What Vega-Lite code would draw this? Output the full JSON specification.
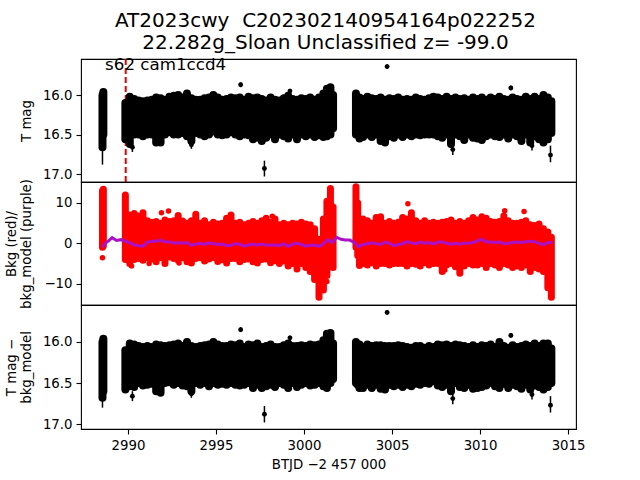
{"$schema":"https://vega.github.io/schema/vega-lite/v6.json","autosize":"pad","bounds":"flush","padding":{"left":3,"top":11,"right":5,"bottom":5},"background":"white","title":{"text":["AT2023cwy\u00a0\u00a0C202302140954164p022252","\u00a0\u00a022.282g_Sloan Unclassified z= -99.0"],"font":"DejaVu Sans","fontSize":20,"fontWeight":"normal","color":"black","anchor":"middle","frame":"group","offset":3,"dx":-3,"lineHeight":22},"config":{"font":"DejaVu Sans","view":{"stroke":"black","strokeWidth":1.1},"axis":{"grid":false,"domain":false,"tickColor":"black","labelColor":"black","titleColor":"black","tickSize":5,"labelFont":"DejaVu Sans","titleFont":"DejaVu Sans","labelFontSize":13.3,"titleFontSize":13.3,"titleFontWeight":"normal","labelPadding":4,"tickWidth":1.1}},"spacing":0,"datasets":{"band":[{"t":2988.55,"a":16.0,"b":16.66,"c":16.0,"d":16.68,"r":13,"s":-1},{"t":2988.6,"a":15.96,"b":16.5,"c":15.96,"d":16.6,"r":13.4,"s":-0.6},{"t":2989.85,"a":16.1,"b":16.56,"c":16.1,"d":16.58,"r":12,"s":-4},{"t":2990.1,"a":16.02,"b":16.62,"c":16.02,"d":16.54,"r":7,"s":-5},{"t":2990.35,"a":16.05,"b":16.5,"c":16.03,"d":16.55,"r":7.4,"s":-4},{"t":2990.6,"a":16.07,"b":16.5,"c":16.05,"d":16.5,"r":6.8,"s":-3.8},{"t":2990.85,"a":16.08,"b":16.52,"c":16.06,"d":16.53,"r":7.6,"s":-4.2},{"t":2991.1,"a":16.07,"b":16.5,"c":16.05,"d":16.52,"r":5.6,"s":-3.6},{"t":2991.35,"a":16.06,"b":16.5,"c":16.06,"d":16.51,"r":5.2,"s":-3.9},{"t":2991.6,"a":16.03,"b":16.6,"c":16.03,"d":16.6,"r":5.4,"s":-4.6},{"t":2991.85,"a":16.04,"b":16.6,"c":16.04,"d":16.62,"r":5,"s":-3.6},{"t":2992.1,"a":16.06,"b":16.5,"c":16.05,"d":16.5,"r":5.8,"s":-5},{"t":2992.35,"a":16.02,"b":16.47,"c":16.04,"d":16.49,"r":5.4,"s":-3.4},{"t":2992.6,"a":16.01,"b":16.5,"c":16.03,"d":16.52,"r":5.6,"s":-3.8},{"t":2992.85,"a":16.0,"b":16.5,"c":16.02,"d":16.5,"r":6.9,"s":-4.2},{"t":2993.1,"a":16.03,"b":16.48,"c":16.05,"d":16.53,"r":5.5,"s":-3.6},{"t":2993.35,"a":15.98,"b":16.52,"c":16.0,"d":16.54,"r":5,"s":-4.6},{"t":2993.6,"a":16.04,"b":16.58,"c":16.05,"d":16.6,"r":5.6,"s":-4.9},{"t":2993.85,"a":16.06,"b":16.48,"c":16.06,"d":16.5,"r":7.2,"s":-3.8},{"t":2994.1,"a":16.06,"b":16.5,"c":16.05,"d":16.52,"r":5,"s":-3.6},{"t":2994.35,"a":16.04,"b":16.52,"c":16.04,"d":16.5,"r":5.6,"s":-4.4},{"t":2994.6,"a":16.03,"b":16.5,"c":16.03,"d":16.54,"r":4.6,"s":-3.9},{"t":2994.85,"a":16.0,"b":16.46,"c":16.0,"d":16.5,"r":5.2,"s":-3.5},{"t":2995.1,"a":16.03,"b":16.5,"c":16.03,"d":16.52,"r":4.8,"s":-4.5},{"t":2995.35,"a":16.06,"b":16.51,"c":16.05,"d":16.51,"r":5,"s":-4.1},{"t":2995.6,"a":16.05,"b":16.5,"c":16.05,"d":16.52,"r":6.2,"s":-4.9},{"t":2995.85,"a":16.03,"b":16.47,"c":16.03,"d":16.5,"r":7,"s":-3.8},{"t":2996.1,"a":16.04,"b":16.5,"c":16.04,"d":16.52,"r":5,"s":-3.8},{"t":2996.35,"a":16.03,"b":16.52,"c":16.02,"d":16.53,"r":5.2,"s":-4.6},{"t":2996.6,"a":16.06,"b":16.5,"c":16.06,"d":16.52,"r":4.6,"s":-4},{"t":2996.85,"a":16.02,"b":16.51,"c":16.03,"d":16.5,"r":5,"s":-3.9},{"t":2997.1,"a":16.04,"b":16.56,"c":16.04,"d":16.56,"r":5.4,"s":-4.6},{"t":2997.35,"a":16.03,"b":16.54,"c":16.02,"d":16.52,"r":5,"s":-4.9},{"t":2997.6,"a":16.05,"b":16.58,"c":16.06,"d":16.56,"r":5.6,"s":-4},{"t":2997.85,"a":16.07,"b":16.54,"c":16.05,"d":16.54,"r":6.2,"s":-3.9},{"t":2998.1,"a":16.03,"b":16.5,"c":16.03,"d":16.52,"r":5.2,"s":-4.8},{"t":2998.35,"a":16.06,"b":16.56,"c":16.06,"d":16.55,"r":6,"s":-4.3},{"t":2998.6,"a":16.07,"b":16.5,"c":16.06,"d":16.5,"r":4.6,"s":-5},{"t":2998.85,"a":16.04,"b":16.52,"c":16.04,"d":16.52,"r":5,"s":-4.4},{"t":2999.1,"a":16.01,"b":16.55,"c":16.02,"d":16.56,"r":4.6,"s":-5.6},{"t":2999.35,"a":16.05,"b":16.5,"c":16.05,"d":16.5,"r":5,"s":-5},{"t":2999.6,"a":16.06,"b":16.56,"c":16.05,"d":16.55,"r":4.8,"s":-6.4},{"t":2999.85,"a":16.04,"b":16.5,"c":16.04,"d":16.52,"r":5.2,"s":-5},{"t":3000.1,"a":16.05,"b":16.52,"c":16.05,"d":16.5,"r":4.8,"s":-6},{"t":3000.35,"a":16.03,"b":16.5,"c":16.03,"d":16.53,"r":4.6,"s":-7},{"t":3000.6,"a":16.06,"b":16.53,"c":16.04,"d":16.52,"r":3.6,"s":-9},{"t":3000.85,"a":16.03,"b":16.51,"c":16.03,"d":16.5,"r":1,"s":-13.4},{"t":3001.1,"a":15.98,"b":16.53,"c":15.98,"d":16.54,"r":6,"s":-11.6},{"t":3001.3,"a":15.92,"b":16.52,"c":15.9,"d":16.56,"r":10.4,"s":-8},{"t":3001.5,"a":15.9,"b":16.5,"c":15.89,"d":16.5,"r":13.6,"s":-5},{"t":3001.65,"a":16.0,"b":16.42,"c":16.02,"d":16.45,"r":9,"s":-6},{"t":3002.95,"a":15.98,"b":16.5,"c":16.0,"d":16.5,"r":14,"s":-1},{"t":3003.05,"a":16.05,"b":16.5,"c":16.05,"d":16.52,"r":10,"s":-3},{"t":3003.15,"a":16.03,"b":16.55,"c":16.03,"d":16.56,"r":5.6,"s":-5.5},{"t":3003.35,"a":16.05,"b":16.53,"c":16.06,"d":16.56,"r":6,"s":-5},{"t":3003.6,"a":16.02,"b":16.5,"c":16.03,"d":16.52,"r":5.6,"s":-5.4},{"t":3003.85,"a":16.04,"b":16.53,"c":16.05,"d":16.56,"r":5,"s":-4.8},{"t":3004.1,"a":16.05,"b":16.5,"c":16.04,"d":16.52,"r":6.4,"s":-5.6},{"t":3004.35,"a":16.03,"b":16.58,"c":16.04,"d":16.57,"r":6.6,"s":-5},{"t":3004.6,"a":16.06,"b":16.6,"c":16.05,"d":16.58,"r":5,"s":-5},{"t":3004.85,"a":16.04,"b":16.52,"c":16.05,"d":16.52,"r":5.4,"s":-5.4},{"t":3005.1,"a":16.05,"b":16.54,"c":16.05,"d":16.54,"r":5,"s":-5},{"t":3005.35,"a":16.03,"b":16.5,"c":16.04,"d":16.52,"r":5.2,"s":-5},{"t":3005.6,"a":16.06,"b":16.53,"c":16.05,"d":16.55,"r":6.4,"s":-5},{"t":3005.85,"a":16.05,"b":16.5,"c":16.06,"d":16.52,"r":6,"s":-5.6},{"t":3006.1,"a":16.06,"b":16.52,"c":16.07,"d":16.54,"r":7.6,"s":-5},{"t":3006.35,"a":16.03,"b":16.5,"c":16.05,"d":16.51,"r":5.6,"s":-5.2},{"t":3006.6,"a":16.05,"b":16.51,"c":16.05,"d":16.52,"r":5,"s":-5.6},{"t":3006.85,"a":16.06,"b":16.5,"c":16.07,"d":16.5,"r":5.6,"s":-4.8},{"t":3007.1,"a":16.04,"b":16.5,"c":16.05,"d":16.51,"r":5,"s":-5.4},{"t":3007.35,"a":16.02,"b":16.5,"c":16.06,"d":16.48,"r":5.2,"s":-5},{"t":3007.6,"a":16.03,"b":16.52,"c":16.03,"d":16.53,"r":5,"s":-5},{"t":3007.85,"a":16.05,"b":16.54,"c":16.04,"d":16.55,"r":5.2,"s":-7},{"t":3008.1,"a":16.02,"b":16.5,"c":16.03,"d":16.52,"r":5.4,"s":-5.4},{"t":3008.35,"a":16.05,"b":16.62,"c":16.05,"d":16.6,"r":5.8,"s":-5},{"t":3008.6,"a":16.03,"b":16.5,"c":16.03,"d":16.5,"r":5,"s":-5.8},{"t":3008.85,"a":16.05,"b":16.52,"c":16.04,"d":16.55,"r":5.4,"s":-7.4},{"t":3009.1,"a":16.04,"b":16.57,"c":16.05,"d":16.56,"r":5,"s":-5.6},{"t":3009.35,"a":16.06,"b":16.5,"c":16.06,"d":16.52,"r":5.6,"s":-5},{"t":3009.6,"a":16.03,"b":16.54,"c":16.04,"d":16.57,"r":6.4,"s":-5.4},{"t":3009.85,"a":16.05,"b":16.55,"c":16.06,"d":16.56,"r":5.8,"s":-5.4},{"t":3010.1,"a":16.03,"b":16.57,"c":16.04,"d":16.55,"r":6.6,"s":-5},{"t":3010.35,"a":16.06,"b":16.52,"c":16.05,"d":16.53,"r":6.2,"s":-6},{"t":3010.6,"a":16.03,"b":16.5,"c":16.03,"d":16.5,"r":5.4,"s":-5},{"t":3010.85,"a":16.05,"b":16.52,"c":16.06,"d":16.54,"r":5.2,"s":-5.4},{"t":3011.1,"a":16.02,"b":16.53,"c":16.0,"d":16.56,"r":5.4,"s":-6},{"t":3011.35,"a":16.05,"b":16.5,"c":16.05,"d":16.51,"r":6.8,"s":-5},{"t":3011.6,"a":16.06,"b":16.55,"c":16.07,"d":16.56,"r":5.6,"s":-5.4},{"t":3011.85,"a":16.03,"b":16.5,"c":16.04,"d":16.52,"r":5,"s":-6},{"t":3012.1,"a":16.05,"b":16.52,"c":16.06,"d":16.54,"r":5,"s":-5.6},{"t":3012.35,"a":16.06,"b":16.58,"c":16.05,"d":16.57,"r":5.2,"s":-6},{"t":3012.6,"a":16.02,"b":16.5,"c":16.03,"d":16.52,"r":5.6,"s":-5.4},{"t":3012.85,"a":16.05,"b":16.6,"c":16.05,"d":16.58,"r":4.6,"s":-7},{"t":3013.1,"a":16.02,"b":16.52,"c":16.02,"d":16.53,"r":4.4,"s":-6},{"t":3013.35,"a":16.05,"b":16.56,"c":16.05,"d":16.55,"r":4.8,"s":-6.4},{"t":3013.6,"a":16.0,"b":16.6,"c":16.02,"d":16.58,"r":3.6,"s":-7},{"t":3013.85,"a":16.03,"b":16.56,"c":16.02,"d":16.55,"r":2.8,"s":-11},{"t":3014.05,"a":16.08,"b":16.48,"c":16.08,"d":16.5,"r":1.5,"s":-13.4}],"model":[{"t":2988.55,"m":-1},{"t":2988.7,"m":0},{"t":2988.9,"m":0.6},{"t":2989.1,"m":1.4},{"t":2989.35,"m":0.7},{"t":2989.6,"m":0.9},{"t":2989.85,"m":0.5},{"t":2990.1,"m":0.1},{"t":2990.35,"m":-0.4},{"t":2990.6,"m":-0.6},{"t":2990.85,"m":-0.7},{"t":2991.1,"m":0.3},{"t":2991.35,"m":0.5},{"t":2991.6,"m":0.5},{"t":2991.85,"m":0.8},{"t":2992.1,"m":0.3},{"t":2992.35,"m":0.4},{"t":2992.6,"m":0},{"t":2992.85,"m":0.2},{"t":2993.1,"m":0},{"t":2993.35,"m":0.2},{"t":2993.6,"m":-0.5},{"t":2993.85,"m":-0.2},{"t":2994.1,"m":0},{"t":2994.35,"m":-0.3},{"t":2994.6,"m":0.1},{"t":2994.85,"m":-0.1},{"t":2995.1,"m":-0.3},{"t":2995.35,"m":-0.2},{"t":2995.6,"m":-0.6},{"t":2995.85,"m":-0.5},{"t":2996.1,"m":-0.1},{"t":2996.35,"m":-0.2},{"t":2996.6,"m":-0.7},{"t":2996.85,"m":-0.4},{"t":2997.1,"m":-0.2},{"t":2997.35,"m":-0.5},{"t":2997.6,"m":-0.2},{"t":2997.85,"m":-0.5},{"t":2998.1,"m":-0.4},{"t":2998.35,"m":-0.4},{"t":2998.6,"m":-0.6},{"t":2998.85,"m":-0.1},{"t":2999.1,"m":-0.8},{"t":2999.35,"m":-0.2},{"t":2999.6,"m":0},{"t":2999.85,"m":-0.3},{"t":3000.1,"m":-0.7},{"t":3000.35,"m":-0.5},{"t":3000.6,"m":-0.4},{"t":3000.85,"m":-0.8},{"t":3001.1,"m":-0.1},{"t":3001.35,"m":0.9},{"t":3001.6,"m":0.2},{"t":3001.85,"m":1.5},{"t":3002.1,"m":1},{"t":3002.35,"m":0.8},{"t":3002.6,"m":0.8},{"t":3002.85,"m":0.2},{"t":3003.1,"m":-0.9},{"t":3003.35,"m":-0.3},{"t":3003.6,"m":-0.1},{"t":3003.85,"m":0.1},{"t":3004.1,"m":-0.1},{"t":3004.35,"m":-0.3},{"t":3004.6,"m":0.3},{"t":3004.85,"m":0},{"t":3005.1,"m":-0.6},{"t":3005.35,"m":-0.3},{"t":3005.6,"m":-0.1},{"t":3005.85,"m":0.4},{"t":3006.1,"m":0.1},{"t":3006.35,"m":-0.1},{"t":3006.6,"m":0.3},{"t":3006.85,"m":0},{"t":3007.1,"m":0.2},{"t":3007.35,"m":-0.2},{"t":3007.6,"m":0.3},{"t":3007.85,"m":0.3},{"t":3008.1,"m":0},{"t":3008.35,"m":-0.2},{"t":3008.6,"m":0},{"t":3008.85,"m":-0.2},{"t":3009.1,"m":0.1},{"t":3009.35,"m":0},{"t":3009.6,"m":0.2},{"t":3009.85,"m":0.6},{"t":3010.1,"m":1},{"t":3010.35,"m":0.3},{"t":3010.6,"m":0.3},{"t":3010.85,"m":0.2},{"t":3011.1,"m":0.3},{"t":3011.35,"m":-0.1},{"t":3011.6,"m":0},{"t":3011.85,"m":0.2},{"t":3012.1,"m":0.3},{"t":3012.35,"m":0.2},{"t":3012.6,"m":0.4},{"t":3012.85,"m":0.5},{"t":3013.1,"m":0.4},{"t":3013.35,"m":0},{"t":3013.6,"m":-0.4},{"t":3013.85,"m":0.2},{"t":3014.1,"m":0.2}],"outT":[{"t":2996.4,"m":15.87,"l":15.84,"h":15.9},{"t":2997.75,"m":16.93,"l":16.83,"h":17.03},{"t":3004.72,"m":15.64,"l":15.61,"h":15.67},{"t":3011.75,"m":15.91,"l":15.88,"h":15.94},{"t":3014.0,"m":16.76,"l":16.64,"h":16.85},{"t":3008.45,"m":16.69,"l":16.62,"h":16.76},{"t":2999.2,"m":15.95,"l":15.92,"h":15.98},{"t":2993.6,"m":16.63,"l":16.58,"h":16.68},{"t":2990.25,"m":16.66,"l":16.6,"h":16.72},{"t":2988.55,"m":16.63,"l":16.55,"h":16.88},{"t":3012.95,"m":16.64,"l":16.58,"h":16.7}],"outB":[{"t":2996.4,"m":15.85,"l":15.82,"h":15.88},{"t":2997.75,"m":16.88,"l":16.78,"h":16.98},{"t":3004.72,"m":15.64,"l":15.61,"h":15.67},{"t":3011.75,"m":15.92,"l":15.89,"h":15.95},{"t":3014.0,"m":16.77,"l":16.66,"h":16.86},{"t":3008.45,"m":16.69,"l":16.62,"h":16.76},{"t":2993.6,"m":16.63,"l":16.58,"h":16.68},{"t":2999.2,"m":15.95,"l":15.92,"h":15.98},{"t":2990.25,"m":16.66,"l":16.6,"h":16.72},{"t":2988.55,"m":16.63,"l":16.55,"h":16.8},{"t":3012.95,"m":16.64,"l":16.58,"h":16.7}],"outR":[{"t":2988.55,"r":-3.6},{"t":2990.2,"r":-5.6},{"t":2992.9,"r":-4.9},{"t":2991.2,"r":-5},{"t":3005.9,"r":9.8},{"t":3008.0,"r":-6.6},{"t":3008.85,"r":-7.2},{"t":3011.4,"r":8.1},{"t":3012.5,"r":7.9},{"t":2992.3,"r":8},{"t":2991.9,"r":7.6},{"t":2998.2,"r":6.7},{"t":3001.3,"r":-9.5}]},"vconcat":[{"width":495,"height":123,"layer":[{"data":{"values":[{"t":2989.87}]},"mark":{"type":"rule","color":"#ee0000","strokeWidth":2,"strokeDash":[6,3]},"encoding":{"x":{"field":"t","type":"quantitative","scale":{"domain":[2987.33,3015.45],"nice":false,"zero":false},"axis":null}}},{"data":{"name":"band"},"mark":{"type":"rule","color":"black","strokeWidth":8,"strokeCap":"round"},"encoding":{"x":{"field":"t","type":"quantitative"},"y":{"field":"a","type":"quantitative","scale":{"domain":[17.1,15.544],"nice":false,"zero":false},"axis":{"values":[16,16.5,17],"format":".1f","title":"T mag","titleX":-48,"titleAnchor":"middle"}},"y2":{"field":"b"}}},{"data":{"name":"outT"},"mark":{"type":"rule","color":"black","strokeWidth":1.5},"encoding":{"x":{"field":"t","type":"quantitative"},"y":{"field":"l","type":"quantitative"},"y2":{"field":"h"}}},{"data":{"name":"outT"},"mark":{"type":"point","filled":true,"color":"black","size":24,"opacity":1},"encoding":{"x":{"field":"t","type":"quantitative"},"y":{"field":"m","type":"quantitative"}}},{"data":{"values":[{"t":2988.7,"m":15.62,"label":"s62 cam1ccd4"}]},"mark":{"type":"text","align":"left","baseline":"middle","fontSize":16.7,"font":"DejaVu Sans","color":"black"},"encoding":{"x":{"field":"t","type":"quantitative"},"y":{"field":"m","type":"quantitative"},"text":{"field":"label"}}}]},{"width":495,"height":123,"layer":[{"data":{"name":"band"},"mark":{"type":"rule","color":"#ff0000","strokeWidth":7,"strokeCap":"round"},"encoding":{"x":{"field":"t","type":"quantitative","scale":{"domain":[2987.33,3015.45],"nice":false,"zero":false},"axis":null},"y":{"field":"s","type":"quantitative","scale":{"domain":[-15.3,15.2],"nice":false,"zero":false},"axis":{"values":[-10,0,10],"title":["Bkg (red)/","bkg_model (purple)"],"titleX":-63,"titleAnchor":"middle"}},"y2":{"field":"r"}}},{"data":{"name":"outR"},"mark":{"type":"point","filled":true,"color":"#ff0000","size":30,"opacity":1},"encoding":{"x":{"field":"t","type":"quantitative"},"y":{"field":"r","type":"quantitative"}}},{"data":{"name":"model"},"mark":{"type":"line","color":"#aa10c8","strokeWidth":3},"encoding":{"x":{"field":"t","type":"quantitative"},"y":{"field":"m","type":"quantitative"}}}]},{"width":495,"height":124,"layer":[{"data":{"name":"band"},"mark":{"type":"rule","color":"black","strokeWidth":8,"strokeCap":"round"},"encoding":{"x":{"field":"t","type":"quantitative","scale":{"domain":[2987.33,3015.45],"nice":false,"zero":false},"axis":{"values":[2990,2995,3000,3005,3010,3015],"format":"d","title":"BTJD −2 457 000","titlePadding":6}},"y":{"field":"c","type":"quantitative","scale":{"domain":[17.06,15.55],"nice":false,"zero":false},"axis":{"values":[16,16.5,17],"format":".1f","title":["T mag −","bkg_model"],"titleX":-63,"titleAnchor":"middle"}},"y2":{"field":"d"}}},{"data":{"name":"outB"},"mark":{"type":"rule","color":"black","strokeWidth":1.5},"encoding":{"x":{"field":"t","type":"quantitative"},"y":{"field":"l","type":"quantitative"},"y2":{"field":"h"}}},{"data":{"name":"outB"},"mark":{"type":"point","filled":true,"color":"black","size":24,"opacity":1},"encoding":{"x":{"field":"t","type":"quantitative"},"y":{"field":"m","type":"quantitative"}}}]}]}
